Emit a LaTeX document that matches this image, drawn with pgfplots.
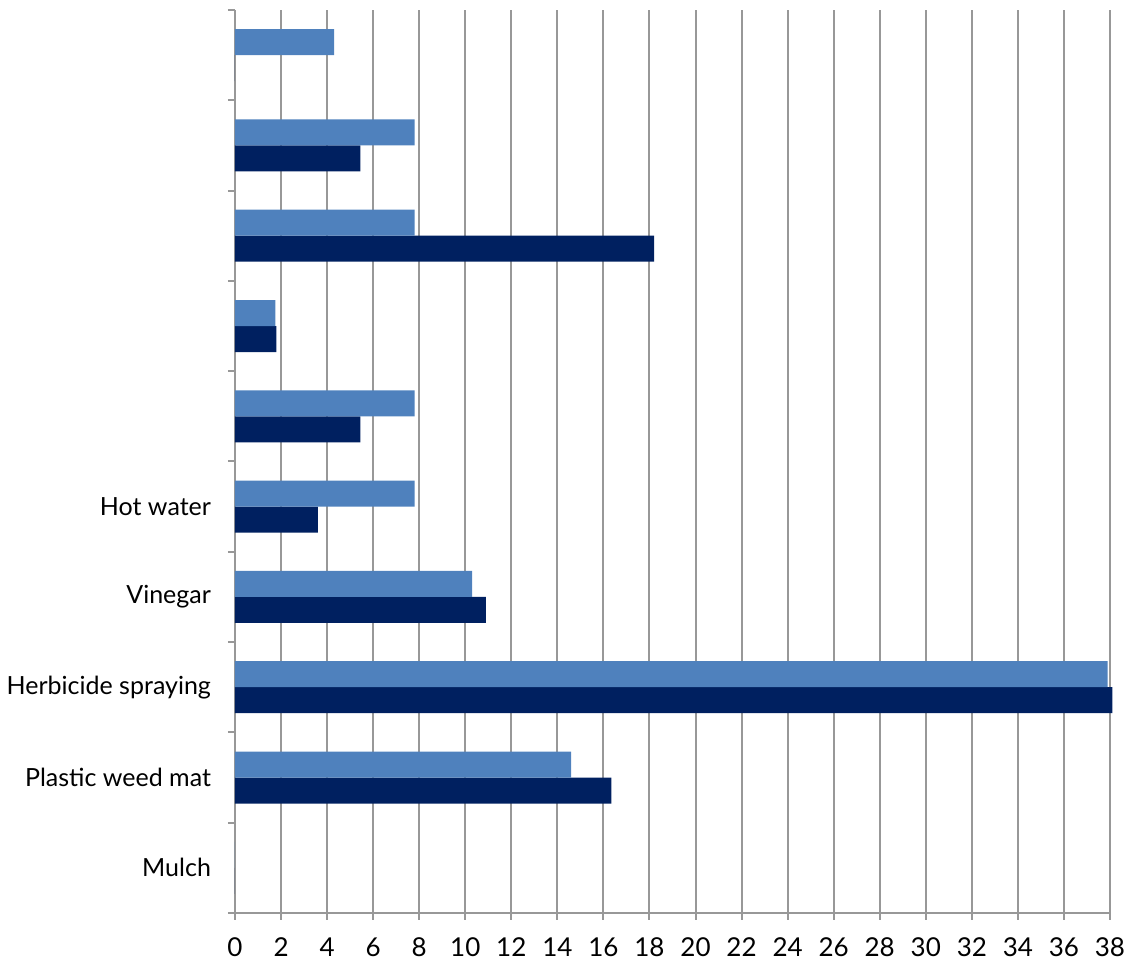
\documentclass[border=0pt]{standalone}
\usepackage{fontspec}
\setmainfont{Lato}
\usepackage{pgfplots}
\pgfplotsset{compat=1.18}
\definecolor{lightbar}{HTML}{4F81BD}
\definecolor{darkbar}{HTML}{002060}
\definecolor{gridgray}{HTML}{989898}
\begin{document}
\fontsize{13}{15}\selectfont
\begin{tikzpicture}
\path[use as bounding box] (-117.5pt,-24pt) rectangle (447.5pt,456.5pt);
\begin{axis}[
  at={(0,0)}, anchor=south west,
  scale only axis,
  width=437.5pt, height=451.5pt,
  xbar, bar width=13pt,
  xmin=0, xmax=38,
  ymin=-0.5, ymax=9.5,
  xtick={0,2,...,38},
  ytick={0,...,9},
  yticklabels={Mulch,Plastic weed mat,Herbicide spraying,Vinegar,Hot water,,,,,},
  minor ytick={-0.5,0.5,...,9.5},
  axis lines*=left,
  axis line style={gridgray, line width=1pt},
  xmajorgrids,
  major grid style={gridgray, line width=1pt},
  tick align=outside,
  major tick length=3.5pt,
  minor tick length=3.5pt,
  every tick/.style={gridgray, line width=1pt},
  major y tick style={draw=none},
  minor y tick style={draw=gridgray, line width=1pt},
  xticklabel style={font=\fontsize{13}{15}\selectfont, text=black, yshift=-4.5pt},
  yticklabel style={font=\fontsize{12.5}{15}\selectfont, text=black, xshift=-4pt},
  /pgf/number format/assume math mode=true,
  clip=false,
]
\addplot[fill=darkbar, draw=none, bar shift=-6.5pt] coordinates {
(0,0) (16.35,1) (38.1,2) (10.9,3) (3.6,4) (5.45,5) (1.8,6) (18.2,7) (5.45,8) (0,9)};
\addplot[fill=lightbar, draw=none, bar shift=6.5pt] coordinates {
(0,0) (14.6,1) (37.9,2) (10.3,3) (7.8,4) (7.8,5) (1.75,6) (7.8,7) (7.8,8) (4.3,9)};
\end{axis}
\end{tikzpicture}
\end{document}
